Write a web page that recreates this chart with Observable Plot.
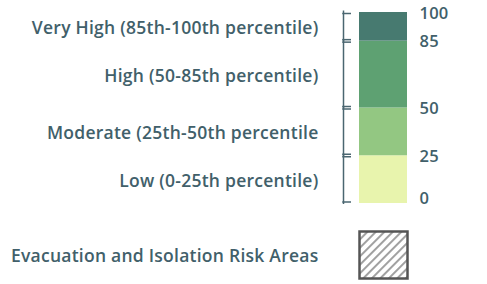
<!DOCTYPE html>
<html>
<head>
<meta charset="utf-8">
<script src="https://cdn.jsdelivr.net/npm/d3@7"></script>
<script src="https://cdn.jsdelivr.net/npm/@observablehq/plot@0.6"></script>
<style>
  html, body { margin: 0; padding: 0; background: #fff; }
  #chart { width: 487px; }
  #chart svg { display: block; }
  #chart svg text { letter-spacing: 0.25px; }
</style>
</head>
<body>
<div id="chart"></div>
<script>
// Data
const categories = ["Low (0-25th percentile)", "Moderate (25th-50th percentile", "High (50-85th percentile)", "Very High (85th-100th percentile)"];
const lowerBounds = [0, 25, 50, 85];
const upperBounds = [25, 50, 85, 100];
const colors = ["#e8f4ad", "#93c782", "#5ea172", "#477a70"];
const tickValues = [0, 25, 50, 85, 100];
const hatchLabel = "Evacuation and Isolation Risk Areas";

const bands = categories.map((c, i) => ({label: c, lo: lowerBounds[i], hi: upperBounds[i], color: colors[i]}));

const textColor = "#41606a";
const font = "'Open Sans', sans-serif";
const labelSize = 17.5;
const tickSize = 16.5;

const barWidth = 48;
const common = {
  width: 487,
  marginLeft: 359,
  marginRight: 487 - 359 - barWidth,
  style: {fontFamily: font, fontSize: "16px", fontWeight: 600, color: textColor, background: "#fff"}
};

const main = Plot.plot({
  ...common,
  height: 215,
  marginTop: 12,
  marginBottom: 12,
  y: {domain: [0, 100], axis: null},
  marks: [
    Plot.rectY(bands, {y1: "lo", y2: "hi", fill: "color"}),
    // brackets
    Plot.ruleX(bands, {x: null, y1: "lo", y2: "hi", dx: -40, insetTop: 1, insetBottom: 1.5, stroke: "#4a6670", strokeWidth: 1.5}),
    Plot.ruleY(bands, {y: "hi", dy: 1, insetLeft: -16.75, insetRight: barWidth + 8, stroke: "#4a6670", strokeWidth: 1.5}),
    Plot.ruleY(bands, {y: "lo", dy: -1.5, insetLeft: -16.75, insetRight: barWidth + 8, stroke: "#4a6670", strokeWidth: 1.5}),
    // category labels
    Plot.text(bands, {y: (d) => (d.lo + d.hi) / 2, text: "label", frameAnchor: "left", textAnchor: "end", dx: -41, dy: 1.5, fill: textColor, fontSize: labelSize, fontWeight: 600}),
    // tick labels
    Plot.text(tickValues.filter((v) => v > 0), {y: (d) => d, text: (d) => String(d), frameAnchor: "right", textAnchor: "start", dx: 12, dy: 1, fill: textColor, fontSize: tickSize, fontWeight: 600}),
    Plot.text(tickValues.filter((v) => v === 0), {y: (d) => d, text: (d) => String(d), frameAnchor: "right", textAnchor: "start", lineAnchor: "bottom", dx: 12, dy: 0, fill: textColor, fontSize: tickSize, fontWeight: 600})
  ]
});

const hatch = Plot.plot({
  ...common,
  height: 69,
  marginTop: 16,
  marginBottom: 6,
  marks: [
    Plot.frame({fill: "url(#hatchPattern)", stroke: "#555", strokeWidth: 2.5}),
    Plot.text([hatchLabel], {text: (d) => d, frameAnchor: "left", textAnchor: "end", dx: -41, dy: 1, fill: textColor, fontSize: labelSize, fontWeight: 600})
  ]
});

// hatch pattern definition
const ns = "http://www.w3.org/2000/svg";
const defs = document.createElementNS(ns, "defs");
const pat = document.createElementNS(ns, "pattern");
pat.setAttribute("id", "hatchPattern");
pat.setAttribute("patternUnits", "userSpaceOnUse");
pat.setAttribute("width", "6");
pat.setAttribute("height", "6");
pat.setAttribute("patternTransform", "rotate(45)");
const bg = document.createElementNS(ns, "rect");
bg.setAttribute("width", "6"); bg.setAttribute("height", "6"); bg.setAttribute("fill", "#fff");
const ln = document.createElementNS(ns, "line");
ln.setAttribute("x1", "1"); ln.setAttribute("y1", "0"); ln.setAttribute("x2", "1"); ln.setAttribute("y2", "6");
ln.setAttribute("stroke", "#8a8a8a"); ln.setAttribute("stroke-width", "1.6");
pat.appendChild(bg); pat.appendChild(ln); defs.appendChild(pat);
hatch.insertBefore(defs, hatch.firstChild);

const el = document.getElementById("chart");
el.appendChild(main);
el.appendChild(hatch);
</script>
</body>
</html>
